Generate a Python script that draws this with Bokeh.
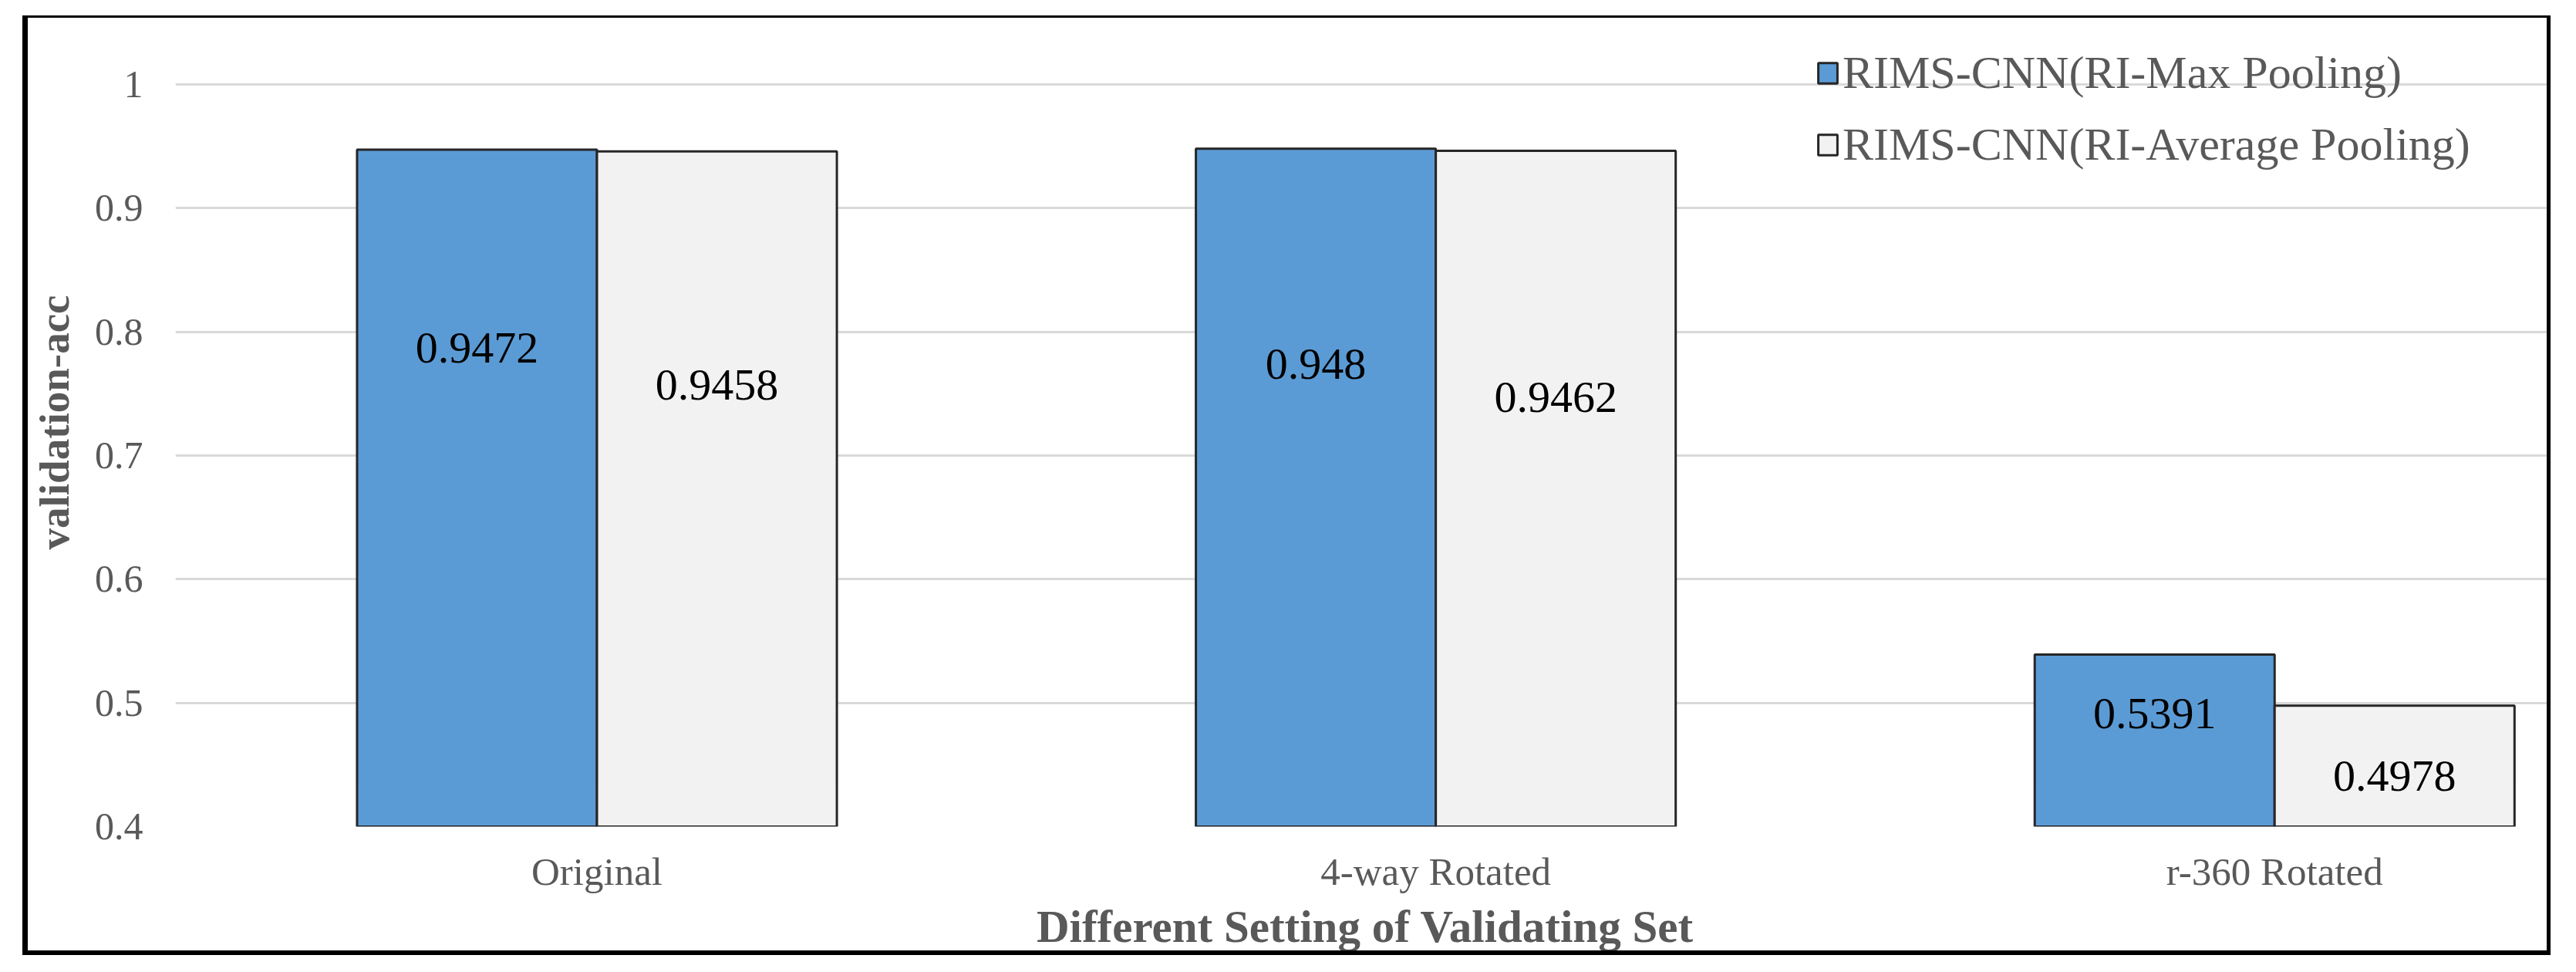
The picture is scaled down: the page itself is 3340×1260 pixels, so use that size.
from bokeh.plotting import figure
from bokeh.models import (ColumnDataSource, FixedTicker, Legend, LegendItem,
                          LabelSet, Range1d)
from bokeh.embed import file_html
from bokeh.resources import INLINE

# ---------------- data ----------------
categories = ["Original", "4-way Rotated", "r-360 Rotated"]
series_names = ["RIMS-CNN(RI-Max Pooling)", "RIMS-CNN(RI-Average Pooling)"]
max_pool = [0.9472, 0.948, 0.5391]
avg_pool = [0.9458, 0.9462, 0.4978]
max_labels = ["0.9472", "0.948", "0.5391"]
avg_labels = ["0.9458", "0.9462", "0.4978"]
y_ticks = [0.4, 0.5, 0.6, 0.7, 0.8, 0.9, 1]
y_tick_labels = ["0.4", "0.5", "0.6", "0.7", "0.8", "0.9", "1"]
x_title = "Different Setting of Validating Set"
y_title = "validation-acc"

# ---------------- style ----------------
BLUE = "#5b9bd5"
LIGHT = "#f2f2f2"
EDGE = "#262626"
GRAY_TXT = "#595959"
FONT = "Liberation Serif"
BAR_W = 0.286
# how far below each bar top its value label sits (data units)
max_label_drop = [0.160, 0.174, 0.048]
avg_label_drop = [0.189, 0.199, 0.057]

idx = list(range(len(categories)))
x_max = [i - BAR_W / 2 for i in idx]
x_avg = [i + BAR_W / 2 for i in idx]

src_max = ColumnDataSource(dict(x=x_max, top=max_pool, lab=max_labels,
                                ly=[v - d for v, d in zip(max_pool, max_label_drop)]))
src_avg = ColumnDataSource(dict(x=x_avg, top=avg_pool, lab=avg_labels,
                                ly=[v - d for v, d in zip(avg_pool, avg_label_drop)]))

# outer size includes the CSS border (border-box)
p = figure(width=3278, height=1218, output_backend="svg", toolbar_location=None,
           x_range=Range1d(-0.5025, 2.334), y_range=Range1d(0.4, 1.0535),
           min_border_left=188, min_border_right=2, min_border_top=0,
           min_border_bottom=170)
p.outline_line_color = None
p.background_fill_color = "white"
p.border_fill_color = "white"

r1 = p.vbar(x="x", top="top", bottom=0.4, width=BAR_W, source=src_max,
            fill_color=BLUE, line_color=EDGE, line_width=3)
r2 = p.vbar(x="x", top="top", bottom=0.4, width=BAR_W, source=src_avg,
            fill_color=LIGHT, line_color=EDGE, line_width=3)

for src in (src_max, src_avg):
    p.add_layout(LabelSet(x="x", y="ly", text="lab", source=src,
                          text_align="center", text_baseline="middle",
                          text_font=FONT, text_font_size="58px",
                          text_color="black"))

# grid
p.xgrid.visible = False
p.ygrid.ticker = FixedTicker(ticks=y_ticks)
p.ygrid.grid_line_color = "#d9d9d9"
p.ygrid.grid_line_width = 3
p.ygrid.level = "underlay"

# axes
yax = p.yaxis[0]
yax.ticker = FixedTicker(ticks=y_ticks)
yax.major_label_overrides = dict(zip(y_ticks, y_tick_labels))
yax.axis_line_color = None
yax.major_tick_line_color = None
yax.minor_tick_line_color = None
yax.major_tick_out = 0
yax.major_tick_in = 0
yax.major_label_standoff = 42
yax.major_label_text_font = FONT
yax.major_label_text_font_size = "50px"
yax.major_label_text_color = GRAY_TXT
yax.axis_label = y_title
yax.axis_label_text_font = FONT
yax.axis_label_text_font_size = "55px"
yax.axis_label_text_font_style = "bold"
yax.axis_label_text_color = GRAY_TXT
yax.axis_label_standoff = 19

xax = p.xaxis[0]
xax.ticker = FixedTicker(ticks=idx)
xax.major_label_overrides = dict(zip(idx, categories))
xax.axis_line_color = None
xax.major_tick_line_color = None
xax.minor_tick_line_color = None
xax.major_tick_out = 0
xax.major_tick_in = 0
xax.major_label_standoff = 30
xax.major_label_text_font = FONT
xax.major_label_text_font_size = "51px"
xax.major_label_text_color = GRAY_TXT
xax.axis_label = x_title
xax.axis_label_text_font = FONT
xax.axis_label_text_font_size = "59px"
xax.axis_label_text_font_style = "bold"
xax.axis_label_text_color = GRAY_TXT
xax.axis_label_standoff = 7

legend = Legend(items=[LegendItem(label=series_names[0], renderers=[r1]),
                       LegendItem(label=series_names[1], renderers=[r2])],
                location=(2127, 846), padding=0, spacing=18, margin=0,
                label_height=75, glyph_width=31, glyph_height=33,
                label_standoff=4, border_line_color=None,
                background_fill_alpha=0,
                label_text_font=FONT, label_text_font_size="60px",
                label_text_color=GRAY_TXT)
p.add_layout(legend)

# outer black frame of the picture
p.styles = {"margin-left": "29px", "margin-top": "20px",
            "border-style": "solid", "border-color": "black",
            "border-width": "3px 5px 6px 7px"}

open("out.html", "w").write(file_html(p, INLINE))
